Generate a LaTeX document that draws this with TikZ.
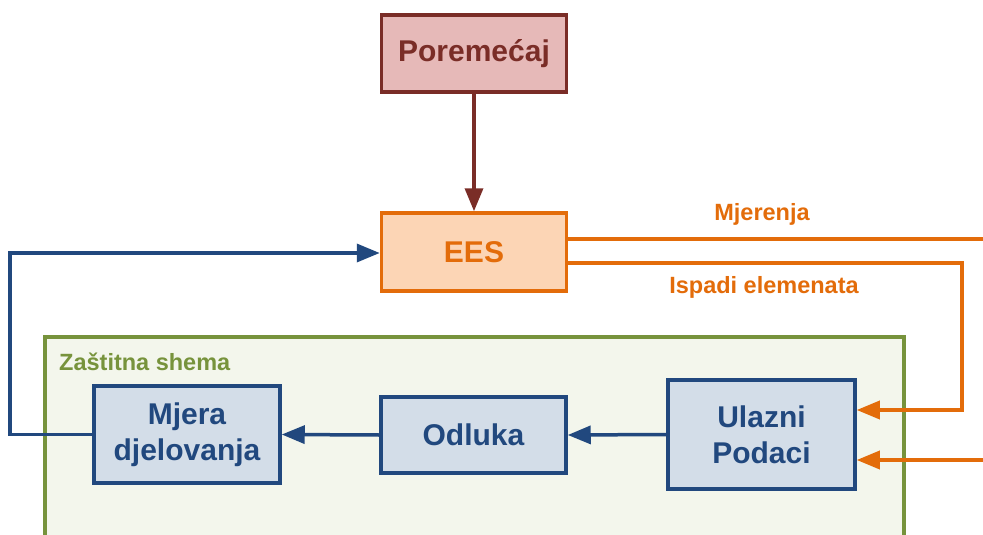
\documentclass[tikz,border=0pt]{standalone}
\usepackage{fontspec}
\setmainfont{Liberation Sans}
\usetikzlibrary{arrows.meta}
\definecolor{redfill}{HTML}{E6B9B8}
\definecolor{reddraw}{HTML}{7A2D27}
\definecolor{orfill}{HTML}{FCD5B5}
\definecolor{ordraw}{HTML}{E36C0A}
\definecolor{blfill}{HTML}{D3DDE8}
\definecolor{bldraw}{HTML}{21487E}
\definecolor{grfill}{HTML}{F3F6EC}
\definecolor{grdraw}{HTML}{77933C}
\tikzset{
  box/.style={draw, line width=3.5pt, rectangle, align=center, font=\fontsize{30}{36}\selectfont\bfseries, inner sep=0pt},
  redbox/.style={box, fill=redfill, draw=reddraw, text=reddraw},
  orbox/.style={box, fill=orfill, draw=ordraw, text=ordraw},
  blbox/.style={box, fill=blfill, draw=bldraw, text=bldraw},
  con/.style={line width=3.5pt, -{Triangle[length=23pt,width=18pt]}},
  lbl/.style={font=\fontsize{23.5}{28}\selectfont\bfseries, inner sep=0pt}
}
\begin{document}
\begin{tikzpicture}[x=1pt,y=-1pt]
\useasboundingbox (0,0) rectangle (983,535);
\clip (0,0) rectangle (983,535);
% protection scheme frame
\draw[line width=3.5pt, draw=grdraw, fill=grfill] (45,337) rectangle (904,560);
\node[lbl, text=grdraw, anchor=west] (zs) at (59,362) {Zaštitna shema};
% nodes
\node[redbox, minimum width=185pt, minimum height=77pt] (por) at (474,53.5) {Poremećaj};
\node[orbox, minimum width=185pt, minimum height=78pt] (ees) at (474,252) {EES};
\node[blbox, minimum width=186pt, minimum height=97pt] (mjera) at (187,434.5) {Mjera\\djelovanja};
\node[blbox, minimum width=185pt, minimum height=76pt] (odl) at (473.5,435) {Odluka};
\node[blbox, minimum width=187pt, minimum height=109pt] (ul) at (761.5,434.5) {Ulazni\\Podaci};
% connection points
\coordinate (eesA) at ([yshift=13pt]ees.east);
\coordinate (eesB) at ([yshift=-11pt]ees.east);
\coordinate (eesL) at ([yshift=-1pt]ees.west);
\coordinate (ulA) at ([yshift=24.5pt]ul.east);
\coordinate (ulB) at ([yshift=-25.5pt]ul.east);
% free ends
\coordinate (mjend) at (990,239);
\coordinate (ispc) at (962,263);
\coordinate (inend) at (990,460);
\coordinate (fbl) at (10,434.5);
% connectors
\draw[con, draw=reddraw] (por) -- (ees);
\draw[con, draw=bldraw] (ul.west) -- (odl.east);
\draw[con, draw=bldraw] (odl.west) -- (mjera.east);
\draw[con, draw=bldraw] (mjera.west) -- (fbl) |- (eesL);
\draw[line width=3.5pt, draw=ordraw] (eesA) -- (mjend |- eesA);
\draw[con, draw=ordraw] (eesB) -- (ispc |- eesB) |- (ulA);
\draw[con, draw=ordraw] (inend |- ulB) -- (ulB);
% labels
\node[lbl, text=ordraw] (lm) at (762,214) {Mjerenja};
\node[lbl, text=ordraw] (li) at (764,287) {Ispadi elemenata};
\end{tikzpicture}
\end{document}
